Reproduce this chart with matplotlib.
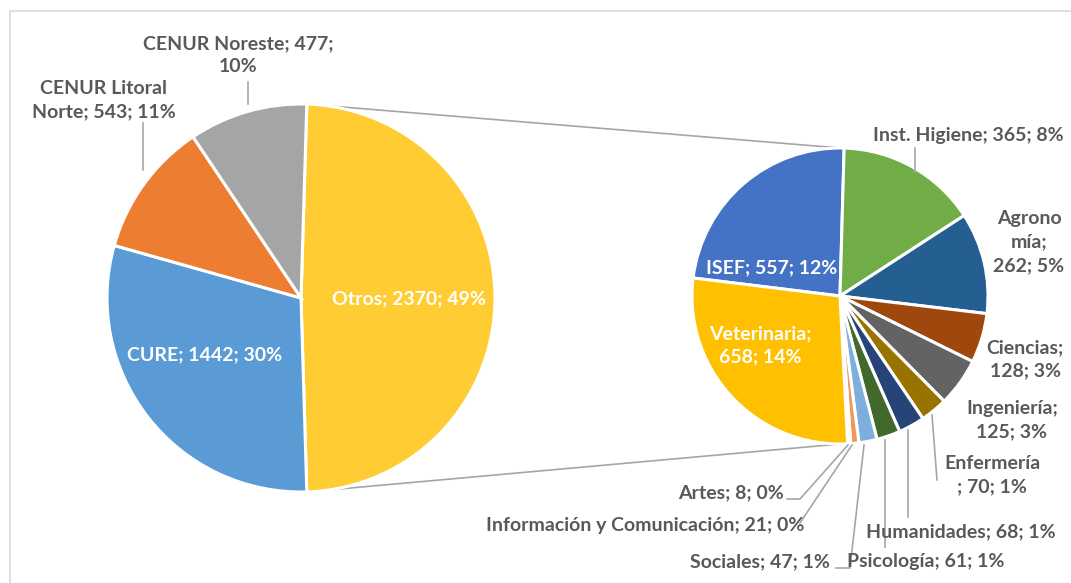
import numpy as np
import matplotlib
matplotlib.use("Agg")
import matplotlib.pyplot as plt

plt.rcParams['font.family'] = ['Lato', 'DejaVu Sans']

# left pie (drawn clockwise starting with "Otros")
main_names = ['Otros', 'CURE', 'CENUR Litoral Norte', 'CENUR Noreste']
main_values = [2370, 1442, 543, 477]
main_colors = ['#FFCD33', '#5B9BD5', '#ED7D31', '#A5A5A5']

# right pie: breakdown of "Otros"
sub_names = ['ISEF', 'Inst. Higiene', 'Agronomía', 'Ciencias', 'Ingeniería',
             'Enfermería', 'Humanidades', 'Psicología', 'Sociales',
             'Información y Comunicación', 'Artes', 'Veterinaria']
sub_values = [557, 365, 262, 128, 125, 70, 68, 61, 47, 21, 8, 658]
sub_colors = ['#4472C4', '#70AD47', '#255E91', '#9E480E', '#636363',
              '#997300', '#264478', '#43682B', '#7CAFDD', '#F1975A',
              '#B7B7B7', '#FFC000']

W, H = 1071, 583
total = sum(main_values)

fig = plt.figure(figsize=(W / 100, H / 100), dpi=100)
ax = fig.add_axes([0, 0, 1, 1])


def Y(y):
    # image rows -> axes y
    return H - y


# pie geometry (pixels)
c1, r1 = (301, Y(298)), 194
c2, r2 = (840, Y(296)), 148
otros_span = 360 * main_values[0] / total
start1 = otros_span / 2
start2 = 173

wp = dict(edgecolor='white', linewidth=2.2)
ax.pie(main_values, colors=main_colors, center=c1, radius=r1,
       startangle=start1, counterclock=False, wedgeprops=wp)
ax.pie(sub_values, colors=sub_colors, center=c2, radius=r2,
       startangle=start2, counterclock=False, wedgeprops=wp)

# connector lines between the pies
for sgn in (1, -1):
    a = np.deg2rad(sgn * start1)
    p1 = (c1[0] + r1 * np.cos(a), c1[1] + r1 * np.sin(a))
    p2 = (c2[0], c2[1] + sgn * r2)
    ax.plot([p1[0], p2[0]], [p1[1], p2[1]], color='#A6A6A6', lw=1.2, zorder=0)


def pct(v):
    return round(100 * v / total)


gray = '#595959'
fs = 14

# label layout: (format, x, y, color)
main_fmt = {
    'Otros': ('{n}; {v}; {p}%', 409, 299, 'white'),
    'CURE': ('{n}; {v}; {p}%', 205, 355, 'white'),
    'CENUR Litoral Norte': ('CENUR Litoral\nNorte; {v}; {p}%', 104, 100, gray),
    'CENUR Noreste': ('{n}; {v};\n{p}%', 238, 55, gray),
}
sub_fmt = {
    'ISEF': ('{n}; {v}; {p}%', 772, 268, 'white'),
    'Veterinaria': ('{n};\n{v}; {p}%', 760, 345, 'white'),
    'Inst. Higiene': ('{n}; {v}; {p}%', 968, 136, gray),
    'Agronomía': ('Agrono\nmía;\n{v}; {p}%', 1029, 242, gray),
    'Ciencias': ('{n};\n{v}; {p}%', 1025, 359, gray),
    'Ingeniería': ('{n};\n{v}; {p}%', 1012, 420, gray),
    'Enfermería': ('{n}\n; {v}; {p}%', 992, 475, gray),
    'Humanidades': ('{n}; {v}; {p}%', 961, 532, gray),
    'Psicología': ('{n}; {v}; {p}%', 926, 562, gray),
    'Sociales': ('{n}; {v}; {p}%', 760, 562, gray),
    'Información y Comunicación': ('{n}; {v}; {p}%', 645, 525, gray),
    'Artes': ('{n}; {v}; {p}%', 731, 493, gray),
}

for names, values, fmts in ((main_names, main_values, main_fmt),
                            (sub_names, sub_values, sub_fmt)):
    for n, v in zip(names, values):
        f, x, y, col = fmts[n]
        ax.text(x, Y(y), f.format(n=n, v=v, p=pct(v)), color=col,
                fontsize=fs, fontweight='bold', ha='center', va='center',
                linespacing=1.45)

# leader lines (image pixel paths)
leaders = [
    [(248, 104), (248, 82)],
    [(143, 170), (143, 123)],
    [(915, 172), (915, 148)],
    [(932, 415), (937, 480)],
    [(908, 430), (908, 517)],
    [(885, 440), (885, 547)],
    [(864, 445), (850, 568), (836, 568)],
    [(852, 445), (800, 523)],
    [(848, 445), (800, 499), (787, 499)],
]
for path in leaders:
    xs = [p[0] for p in path]
    ys = [Y(p[1]) for p in path]
    ax.plot(xs, ys, color='#A6A6A6', lw=1.2)

# chart frame (top and left edges visible)
ax.plot([9.5, 9.5, W], [0, Y(11), Y(11)], color='#D9D9D9', lw=1.2)

ax.set_xlim(0, W)
ax.set_ylim(0, H)
ax.set_aspect('auto')
ax.axis('off')

plt.savefig('out.png', dpi=100)
